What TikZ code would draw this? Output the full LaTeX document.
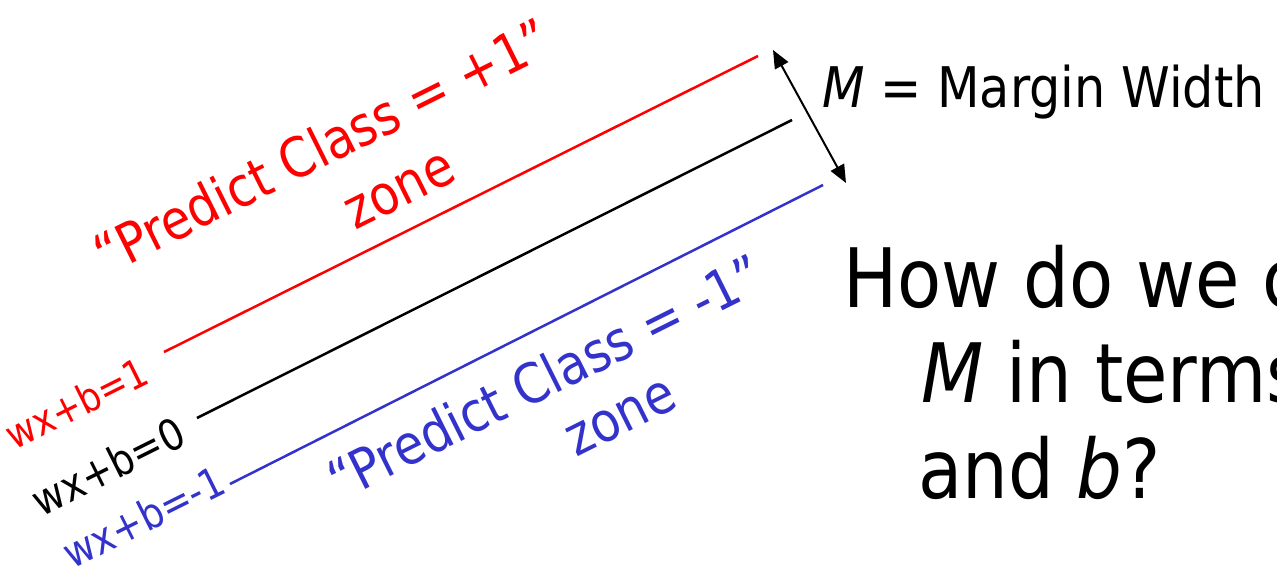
\documentclass[tikz,border=0pt]{standalone}
\usepackage{fontspec}
\setmainfont{DejaVu Sans}[FakeStretch=0.88]
\usetikzlibrary{arrows.meta}
\definecolor{plusColor}{RGB}{255,0,0}
\definecolor{minusColor}{RGB}{51,51,204}

\begin{document}
\begin{tikzpicture}[x=1pt, y=-1pt,
    hyperplane/.style={line width=2.5pt},
    zonetext/.style={rotate=26.5, anchor=base, inner sep=0pt, font=\fontsize{55}{66}\selectfont},
    eqtext/.style={rotate=26.5, anchor=base east, inner sep=0pt, font=\fontsize{40}{48}\selectfont},
    asktext/.style={anchor=base west, inner sep=0pt, font=\fontsize{82}{98}\selectfont}]

    \useasboundingbox (0,0) rectangle (1277,568);

    % 1. LAS TRES RECTAS (plus, decision, minus)
    \coordinate (plusA)  at (164,352);
    \coordinate (plusB)  at (758,56);
    \coordinate (zeroA)  at (197,418);
    \coordinate (zeroB)  at (792,120);
    \coordinate (minusA) at (230,484);
    \coordinate (minusB) at (823,185);

    \draw[hyperplane, plusColor]  (plusA) -- (plusB);
    \draw[hyperplane, black]      (zeroA) -- (zeroB);
    \draw[hyperplane, minusColor] (minusA) -- (minusB);

    % Etiquetas de las rectas
    \node[eqtext, plusColor] (plusEq) at (152,382) {wx+b=1};
    \node[eqtext, black, font=\fontsize{43}{50}\selectfont] (zeroEq) at (189,444) {wx+b=0};
    \node[eqtext, minusColor, font=\fontsize{42}{50}\selectfont] (minusEq) at (229,492) {wx+b=-1};

    % 2. ZONAS
    \node[zonetext, plusColor] (plusZone) at (331,164) {“Predict Class = +1”};
    \node[zonetext, plusColor] (plusZoneB) at (407,205) {zone};
    \node[zonetext, minusColor] (minusZone) at (554,395) {“Predict Class = -1”};
    \node[zonetext, minusColor] (minusZoneB) at (628,432) {zone};

    % 3. MARGEN
    \coordinate (marginTop) at (773,50);
    \coordinate (marginBot) at (846,183);
    \draw[line width=2pt, {Triangle[length=18pt,width=15pt]}-{Triangle[length=18pt,width=15pt]}]
        (marginTop) -- (marginBot);
    \node[anchor=base west, inner sep=0pt, font=\fontsize{56}{66}\selectfont] (marginText) at (822,107)
        {\textit{M =} Margin Width};

    % Pregunta
    \node[asktext] (askA) at (843,307) {How do we compute};
    \node[asktext] (askB) at (921,402) {\textit{M} in terms of \textit{w}};
    \node[asktext] (askC) at (918,498) {and \textit{b}?};

\end{tikzpicture}
\end{document}
